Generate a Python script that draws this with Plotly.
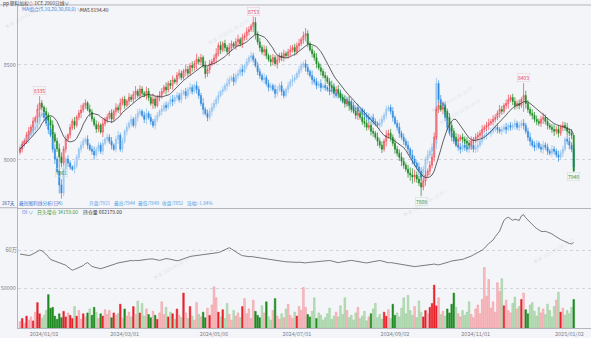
import plotly.graph_objects as go
import pandas as pd

# ---------------- data ----------------
main_close = [
    8056, 8082, 8098, 8131, 8150, 8172, 8204, 8221, 8266, 8298,
    8276, 8254, 8236, 8208, 8183, 8134, 8099, 8058, 8016, 7984,
    8057, 8108, 8131, 8170, 8203, 8182, 8224, 8246, 8262, 8287,
    8299, 8266, 8251, 8215, 8186, 8162, 8183, 8146, 8190, 8211,
    8224, 8246, 8214, 8255, 8274, 8263, 8298, 8318, 8287, 8309,
    8329, 8318, 8344, 8361, 8338, 8372, 8350, 8340, 8360, 8327,
    8297, 8319, 8286, 8329, 8340, 8359, 8382, 8368, 8401, 8391,
    8420, 8410, 8444, 8455, 8433, 8466, 8475, 8455, 8496, 8485,
    8506, 8528, 8515, 8538, 8494, 8453, 8475, 8505, 8517, 8536,
    8558, 8601, 8578, 8611, 8590, 8569, 8590, 8610, 8598, 8621,
    8632, 8609, 8642, 8652, 8673, 8684, 8703, 8722, 8660, 8620,
    8590, 8567, 8580, 8548, 8527, 8515, 8537, 8506, 8525, 8547,
    8537, 8558, 8548, 8568, 8578, 8590, 8569, 8600, 8611, 8632,
    8652, 8663, 8610, 8579, 8558, 8537, 8505, 8484, 8465, 8443,
    8432, 8411, 8390, 8381, 8360, 8370, 8349, 8328, 8318, 8296,
    8307, 8286, 8265, 8255, 8234, 8245, 8224, 8202, 8192, 8171,
    8181, 8150, 8140, 8119, 8098, 8077, 8056, 8098, 8129, 8140,
    8119, 8087, 8056, 8035, 8014, 7993, 7972, 7951, 7930, 7920,
    7910, 7920, 7899, 7878, 7857, 7889, 7920, 7941, 7972, 8014,
    8120, 8265, 8286, 8265, 8275, 8255, 8223, 8181, 8150, 8119,
    8098, 8108, 8119, 8108, 8098, 8087, 8077, 8098, 8108, 8119,
    8129, 8140, 8160, 8171, 8181, 8192, 8202, 8213, 8223, 8244,
    8265, 8255, 8286, 8296, 8317, 8328, 8307, 8286, 8296, 8286,
    8317, 8338, 8296, 8265, 8244, 8234, 8213, 8202, 8192, 8213,
    8223, 8202, 8181, 8171, 8160, 8150, 8160, 8140, 8171, 8181,
    8171, 8150, 8140, 8129, 7941,
]
main_first_open = 8040
main_wick = [
    12, 18, 9, 15, 22, 14, 20, 11, 25, 37,
    16, 10, 21, 13, 19, 24, 12, 17, 28, 23,
    15, 20, 9, 18, 14, 22, 11, 16, 27, 13,
    19, 10, 24, 15, 12, 21, 17, 9, 26, 14,
    18, 12, 20, 11, 23, 16, 25, 13, 19, 10,
    22, 14, 18, 27, 12, 20, 15, 11, 24, 17,
    13, 29, 16, 10, 21, 18, 12, 25, 14, 19,
    23, 11, 17, 20, 15, 12, 26, 18, 13, 22,
    16, 30, 14, 19, 11, 25, 17, 21, 13, 18,
    28, 15, 22, 12, 20, 14, 24, 17, 11, 19,
    26, 13, 21, 16, 23, 18, 12, 31, 27, 15,
    20, 14, 22, 17, 11, 24, 19, 13, 26, 15,
    18, 21, 12, 16, 23, 14, 20, 17, 25, 13,
    22, 30, 18, 11, 19, 16, 24, 13, 21, 15,
    20, 12, 18, 26, 14, 17, 23, 11, 19, 22,
    15, 28, 16, 12, 20, 24, 13, 18, 21, 17,
    14, 22, 19, 12, 25, 16, 20, 13, 27, 18,
    22, 15, 24, 17, 20, 26, 19, 14, 23, 30,
    35, 28, 20, 16, 48, 18, 25, 13, 21, 17,
    24, 15, 19, 12, 26, 20, 14, 23, 18, 16,
    22, 27, 13, 19, 15, 21, 17, 25, 12, 20,
    18, 16, 22, 14, 19, 24, 13, 21, 17, 15,
    23, 18, 12, 20, 26, 14, 19, 22, 16, 21,
    13, 65, 25, 18, 14, 22, 17, 20, 15, 19,
    24, 16, 21, 13, 18, 25, 17, 22, 14, 20,
    18, 23, 16, 21, 1,
]

blue_close = [
    8066, 8082, 8098, 8108, 8129, 8140, 8160, 8171, 8202, 8234,
    8244, 8223, 8192, 8160, 8129, 8056, 8004, 7941, 7868, 7826,
    7951, 8004, 7983, 7962, 7951, 7972, 8014, 8056, 8077, 8098,
    8108, 8077, 8056, 8045, 8025, 8056, 8077, 8045, 8087, 8108,
    8119, 8098, 8077, 8056, 8108, 8129, 8056, 8098, 8150, 8171,
    8192, 8213, 8181, 8223, 8244, 8255, 8234, 8213, 8244, 8223,
    8202, 8181, 8213, 8234, 8255, 8265, 8286, 8275, 8296, 8317,
    8307, 8328, 8338, 8317, 8349, 8359, 8338, 8370, 8380, 8359,
    8390, 8370, 8338, 8296, 8265, 8244, 8223, 8255, 8275, 8296,
    8317, 8338, 8359, 8370, 8390, 8401, 8422, 8432, 8411, 8443,
    8453, 8474, 8464, 8495, 8516, 8537, 8547, 8526, 8495, 8464,
    8443, 8422, 8432, 8401, 8380, 8390, 8370, 8349, 8370, 8390,
    8359, 8338, 8370, 8390, 8411, 8422, 8432, 8453, 8474, 8495,
    8505, 8485, 8464, 8443, 8422, 8411, 8390, 8401, 8380, 8390,
    8380, 8370, 8359, 8380, 8349, 8338, 8349, 8328, 8307, 8317,
    8296, 8307, 8286, 8265, 8275, 8255, 8265, 8244, 8234, 8223,
    8213, 8223, 8202, 8192, 8181, 8192, 8213, 8234, 8265, 8275,
    8255, 8223, 8192, 8171, 8140, 8119, 8098, 8077, 8056, 8025,
    8004, 7983, 7962, 7941, 7910, 7951, 8004, 8025, 8045, 8066,
    8087, 8401, 8317, 8296, 8286, 8223, 8171, 8140, 8119, 8098,
    8077, 8066, 8056, 8077, 8066, 8056, 8066, 8077, 8056, 8066,
    8077, 8098, 8119, 8129, 8140, 8140, 8150, 8160, 8171, 8160,
    8150, 8160, 8171, 8160, 8181, 8171, 8181, 8192, 8171, 8181,
    8192, 8181, 8150, 8119, 8098, 8077, 8066, 8087, 8066, 8056,
    8077, 8066, 8045, 8035, 8056, 8045, 8025, 8014, 8035, 8056,
    8108, 8098, 8077, 8056, 7962,
]
blue_first_open = 8050
blue_wick = [
    14, 10, 18, 12, 20, 9, 16, 22, 13, 17,
    11, 19, 15, 24, 10, 18, 26, 13, 45, 30,
    17, 12, 20, 14, 9, 23, 15, 11, 19, 16,
    13, 21, 10, 18, 25, 12, 17, 14, 20, 11,
    19, 15, 22, 10, 16, 24, 13, 18, 12, 21,
    14, 20, 11, 17, 23, 15, 10, 19, 26, 12,
    18, 13, 21, 16, 9, 22, 14, 20, 11, 17,
    24, 12, 18, 15, 21, 10, 19, 13, 25, 16,
    11, 22, 17, 14, 28, 12, 20, 16, 23, 18,
    15, 21, 10, 19, 13, 26, 17, 12, 22, 14,
    20, 16, 24, 11, 18, 13, 21, 15, 10, 19,
    17, 12, 23, 14, 20, 16, 11, 25, 18, 13,
    22, 15, 10, 19, 14, 24, 17, 12, 20, 16,
    13, 21, 18, 11, 26, 15, 19, 14, 22, 10,
    18, 12, 20, 16, 23, 13, 17, 21, 11, 19,
    15, 24, 12, 18, 14, 20, 16, 10, 22, 17,
    21, 13, 19, 15, 11, 25, 18, 14, 20, 12,
    16, 22, 10, 18, 24, 13, 19, 15, 21, 11,
    28, 17, 14, 23, 20, 18, 12, 26, 15, 21,
    19, 30, 16, 24, 12, 20, 17, 13, 22, 15,
    11, 18, 23, 14, 19, 16, 21, 12, 17, 20,
    24, 13, 18, 15, 22, 10, 19, 16, 14, 21,
    12, 20, 17, 23, 11, 18, 15, 21, 13, 19,
    16, 22, 14, 19, 25, 12, 20, 17, 11, 18,
    23, 15, 19, 12, 21, 17, 14, 24, 16, 20,
    13, 18, 22, 16, 25,
]

volume = [
    8000, 12000, 6000, 15000, 10000, 14000, 9000, 20000, 32000, 18000,
    12000, 16000, 22000, 42000, 25000, 26000, 15000, 11000, 18000, 13000,
    21000, 14000, 19000, 16000, 12000, 27000, 15000, 22000, 11000, 18000,
    14000, 19000, 24000, 16000, 26000, 20000, 12000, 18000, 15000, 23000,
    17000, 22000, 13000, 19000, 16000, 18000, 30000, 12000, 24000, 15000,
    20000, 14000, 27000, 17000, 34000, 19000, 31000, 15000, 24000, 17000,
    13000, 21000, 16000, 11000, 19000, 33000, 17000, 26000, 14000, 20000,
    18000, 11000, 24000, 16000, 13000, 44000, 19000, 12000, 27000, 15000,
    10000, 32000, 17000, 14000, 20000, 13000, 25000, 16000, 29000, 52000,
    38000, 20000, 14000, 23000, 12000, 31000, 17000, 10000, 22000, 15000,
    19000, 13000, 27000, 37000, 18000, 24000, 12000, 35000, 21000, 16000,
    13000, 28000, 19000, 33000, 14000, 10000, 22000, 37000, 15000, 11000,
    18000, 13000, 24000, 30000, 16000, 12000, 20000, 15000, 27000, 22000,
    51000, 26000, 17000, 14000, 21000, 38000, 12000, 19000, 16000, 10000,
    13000, 18000, 25000, 11000, 15000, 20000, 14000, 28000, 17000, 38000,
    22000, 13000, 16000, 10000, 19000, 26000, 12000, 15000, 21000, 9000,
    14000, 18000, 24000, 31000, 13000, 17000, 11000, 20000, 15000, 23000,
    12000, 30000, 16000, 19000, 14000, 25000, 38000, 18000, 41000, 22000,
    16000, 27000, 13000, 34000, 20000, 14000, 22000, 18000, 26000, 31000,
    54000, 28000, 38000, 17000, 21000, 15000, 24000, 19000, 30000, 44000,
    26000, 18000, 14000, 22000, 16000, 20000, 33000, 17000, 13000, 24000,
    29000, 18000, 36000, 76000, 40000, 61000, 25000, 33000, 20000, 57000,
    46000, 62000, 28000, 35000, 22000, 19000, 31000, 39000, 24000, 27000,
    36000, 44000, 23000, 18000, 29000, 32000, 21000, 15000, 26000, 19000,
    24000, 17000, 30000, 22000, 14000, 27000, 35000, 45000, 20000, 25000,
    16000, 22000, 18000, 26000, 36000,
]

open_interest = [
    572000, 569000, 566000, 563000, 561000, 565000, 572000, 580000, 592000, 603000,
    598000, 585000, 571000, 552000, 530000, 524000, 519000, 512000, 506000, 501000,
    493000, 485000, 470000, 455000, 446000, 452000, 460000, 467000, 470000, 482000,
    498000, 505000, 490000, 476000, 470000, 465000, 461000, 458000, 463000, 468000,
    472000, 476000, 482000, 490000, 497000, 503000, 506000, 510000, 514000, 518000,
    520000, 522000, 519000, 523000, 521000, 522000, 524000, 527000, 530000, 533000,
    536000, 534000, 530000, 526000, 523000, 527000, 532000, 537000, 535000, 531000,
    526000, 522000, 520000, 523000, 530000, 537000, 542000, 548000, 553000, 556000,
    558000, 560000, 562000, 565000, 568000, 571000, 569000, 572000, 576000, 578000,
    580000, 584000, 590000, 598000, 608000, 618000, 622000, 612000, 600000, 590000,
    578000, 568000, 560000, 556000, 553000, 552000, 553000, 550000, 548000, 545000,
    543000, 540000, 538000, 536000, 533000, 530000, 527000, 524000, 522000, 519000,
    516000, 514000, 512000, 510000, 508000, 506000, 505000, 507000, 509000, 506000,
    504000, 503000, 506000, 508000, 510000, 512000, 514000, 516000, 515000, 517000,
    519000, 521000, 522000, 518000, 513000, 508000, 505000, 509000, 513000, 516000,
    519000, 521000, 523000, 520000, 516000, 513000, 510000, 508000, 505000, 503000,
    506000, 510000, 514000, 518000, 521000, 522000, 518000, 512000, 507000, 504000,
    506000, 503000, 500000, 496000, 492000, 490000, 486000, 482000, 478000, 475000,
    472000, 474000, 476000, 478000, 480000, 483000, 487000, 490000, 493000, 496000,
    494000, 490000, 488000, 492000, 496000, 500000, 505000, 512000, 518000, 520000,
    521000, 522000, 526000, 531000, 537000, 542000, 550000, 557000, 566000, 574000,
    583000, 594000, 603000, 617000, 640000, 655000, 668000, 682000, 708000, 728000,
    752000, 795000, 836000, 852000, 860000, 848000, 836000, 845000, 842000, 835000,
    871000, 880000, 856000, 838000, 818000, 798000, 786000, 772000, 758000, 750000,
    748000, 750000, 744000, 738000, 730000, 718000, 706000, 695000, 686000, 678000,
    670000, 660000, 655000, 652000, 662179,
]

tick_index = [11, 48, 89, 127, 172, 209, 252]
tick_labels = ["2024/01/02", "2024/03/01", "2024/05/06", "2024/07/01",
               "2024/09/02", "2024/11/01", "2025/01/02"]

mark_index = [9, 19, 107, 184, 231, 254]
mark_text = ["8335", "7961", "8753", "7809", "8403", "7940"]
mark_kind = ["high", "low", "high", "low", "high", "low"]

n = len(main_close)
for name, arr in [("main_wick", main_wick), ("blue_close", blue_close),
                  ("blue_wick", blue_wick), ("volume", volume),
                  ("open_interest", open_interest)]:
    assert len(arr) == n, (name, len(arr), n)

# ---------------- derived OHLC ----------------
idx = list(range(n))
main_open = [main_first_open] + main_close[:-1]
main_high = [max(o, c) + w for o, c, w in zip(main_open, main_close, main_wick)]
main_low = [min(o, c) - w for o, c, w in zip(main_open, main_close, main_wick)]
blue_open = [blue_first_open] + blue_close[:-1]
blue_high = [max(o, c) + w for o, c, w in zip(blue_open, blue_close, blue_wick)]
blue_low = [min(o, c) - w for o, c, w in zip(blue_open, blue_close, blue_wick)]
ma = pd.Series(main_close).rolling(10, min_periods=1).mean().tolist()

# ---------------- geometry helpers ----------------
W, H = 591, 338
def px(x):
    return x / W
def py(y):
    return 1 - y / H

X0 = 18
PRICE_TOP, SPLIT, BOTTOM = 5, 209, 330
x_range = [-0.92, -0.92 + (W - X0) / 2.18]

FONT = "Noto Sans CJK SC, Noto Sans, DejaVu Sans, sans-serif"
GRID = "#d3d4dc"
AXIS = "#b4b5bd"
TICKC = "#7d7f88"

fig = go.Figure()

fig.add_trace(go.Candlestick(
    x=idx, open=blue_open, high=blue_high, low=blue_low, close=blue_close,
    increasing=dict(line=dict(color="#8cc0ef", width=0.7), fillcolor="#b3d6f6"),
    decreasing=dict(line=dict(color="#2f8be0", width=0.7), fillcolor="#2f8be0"),
    whiskerwidth=0, xaxis="x", yaxis="y", showlegend=False, hoverinfo="skip"))

fig.add_trace(go.Candlestick(
    x=idx, open=main_open, high=main_high, low=main_low, close=main_close,
    increasing=dict(line=dict(color="#ee4650", width=0.7), fillcolor="#f9b7bc"),
    decreasing=dict(line=dict(color="#1d8a22", width=0.7), fillcolor="#1d8a22"),
    whiskerwidth=0, xaxis="x", yaxis="y", showlegend=False, hoverinfo="skip"))

fig.add_trace(go.Scatter(x=idx, y=ma, mode="lines", line=dict(color="#3a3a3a", width=0.8),
                         xaxis="x", yaxis="y", showlegend=False, hoverinfo="skip"))

vol_fill, vol_line = [], []
for o, c in zip(main_open, main_close):
    strong = abs(c - o) >= 25
    if c >= o:
        vol_fill.append("#e8232c" if strong else "#f8c3c7")
        vol_line.append("#e8232c" if strong else "#ef8d93")
    else:
        vol_fill.append("#1f8a22" if strong else "#bfe0bf")
        vol_line.append("#1f8a22" if strong else "#8cc68c")

fig.add_trace(go.Bar(x=idx, y=volume, marker=dict(color=vol_fill, line=dict(color=vol_line, width=0.5)),
                     xaxis="x2", yaxis="y2", showlegend=False, hoverinfo="skip"))
fig.add_trace(go.Scatter(x=idx, y=open_interest, mode="lines", line=dict(color="#5a5a5a", width=0.8),
                         xaxis="x2", yaxis="y3", showlegend=False, hoverinfo="skip"))

tickfont = dict(family=FONT, size=5.5, color=TICKC)
fig.update_layout(
    width=W, height=H, margin=dict(l=0, r=0, t=0, b=0),
    paper_bgcolor="#f4f5f9", plot_bgcolor="#f4f5f9",
    bargap=0.25, showlegend=False,
    xaxis=dict(domain=[px(X0), 1], range=x_range, anchor="y", showticklabels=False,
               showgrid=False, zeroline=False, showline=True, linecolor=AXIS, linewidth=1,
               rangeslider=dict(visible=False), fixedrange=True),
    xaxis2=dict(domain=[px(X0), 1], range=x_range, anchor="y2", tickvals=tick_index,
                ticktext=tick_labels, tickfont=tickfont, showgrid=False, zeroline=False,
                showline=True, linecolor=AXIS, linewidth=1, ticks="", fixedrange=True),
    yaxis=dict(domain=[py(SPLIT), py(PRICE_TOP)], range=[7748, 8814], anchor="x",
               tickvals=[8000, 8500], ticktext=["8000", "8500"], tickfont=tickfont,
               showgrid=True, gridcolor=GRID, griddash="dot", gridwidth=1, zeroline=False,
               showline=True, linecolor=AXIS, linewidth=1, ticks="", fixedrange=True),
    yaxis2=dict(domain=[py(BOTTOM), py(SPLIT)], range=[0, (BOTTOM - SPLIT) / 40 * 50000], anchor="x2",
                tickvals=[50000], ticktext=["50000"], tickfont=tickfont,
                showgrid=True, gridcolor=GRID, griddash="dot", zeroline=False,
                showline=True, linecolor=AXIS, linewidth=1, ticks="", fixedrange=True),
    yaxis3=dict(overlaying="y2", anchor="x2", side="left",
                range=[600000 - (BOTTOM - 252) * 7772, 600000 + (252 - SPLIT) * 7772],
                tickvals=[600000], ticktext=["60万"], tickfont=tickfont,
                showgrid=True, gridcolor=GRID, griddash="dot", zeroline=False,
                showline=False, ticks="", fixedrange=True),
)

# frame lines
fig.add_shape(type="line", xref="paper", yref="paper", x0=0, x1=1, y0=py(PRICE_TOP), y1=py(PRICE_TOP),
              line=dict(color=AXIS, width=1))
fig.add_shape(type="line", xref="paper", yref="paper", x0=0, x1=px(X0), y0=py(SPLIT), y1=py(SPLIT),
              line=dict(color=AXIS, width=1))

def label(x, y, text, color, size=4.9):
    fig.add_annotation(xref="paper", yref="paper", x=px(x), y=py(y), text=text, showarrow=False,
                       xanchor="left", yanchor="middle", font=dict(family=FONT, size=size, color=color))

# faint watermarks
for wx, wy in [(2, 16), (205, 32), (212, 44), (428, 100), (436, 112), (400, 205),
               (530, 252), (150, 268)]:
    fig.add_annotation(xref="paper", yref="paper", x=px(wx), y=py(wy), text="新浪  2025-01-06 20:07",
                       showarrow=False, xanchor="left", yanchor="middle", textangle=-30,
                       font=dict(family=FONT, size=4.5, color="rgba(150,152,165,0.28)"))

label(1, 3.2, "pp 塑料加权<span style='color:#e05060'>☆</span> DCE 2960", "#444", 4.7)
label(53, 3.2, "日线∨", "#444", 4.7)
label(20, 9.5, "MA组合(5,10,20,30,60,0) ∨", "#3f7fd8")
label(78, 9.5, "MA5 8194.40", "#333")

label(0, 204.5, "267天", "#2a4ea0", 4.7)
label(17, 204.5, "最短图利线分析(日K)", "#3b7fd6", 4.7)
label(87, 204.5, "开盘:7921", "#5aa5e8", 4.7)
label(112, 204.5, "最高:7944", "#5aa5e8", 4.7)
label(136, 204.5, "最低:7849", "#5aa5e8", 4.7)
label(160, 204.5, "收盘:7852", "#5aa5e8", 4.7)
label(185, 204.5, "涨幅:-1.84%", "#5aa5e8", 4.7)

label(20, 213, "OI ∨", "#3b7fd6")
label(35, 213, "日头增仓 34159.00", "#3a9a3a")
label(81, 213, "持仓量 662179.00", "#333")

for i, t, k in zip(mark_index, mark_text, mark_kind):
    hi = k == "high"
    col = "#e5414d" if hi else "#2e8f33"
    fig.add_annotation(x=i, y=main_high[i] if hi else main_low[i], xref="x", yref="y", text=t,
                       showarrow=False, yanchor="bottom" if hi else "top", yshift=1 if hi else -1,
                       font=dict(family=FONT, size=5, color=col),
                       bordercolor="#f3c6c9" if hi else "#c4e2c5", borderwidth=0.5, borderpad=0.5)

fig.write_html("out.html")
